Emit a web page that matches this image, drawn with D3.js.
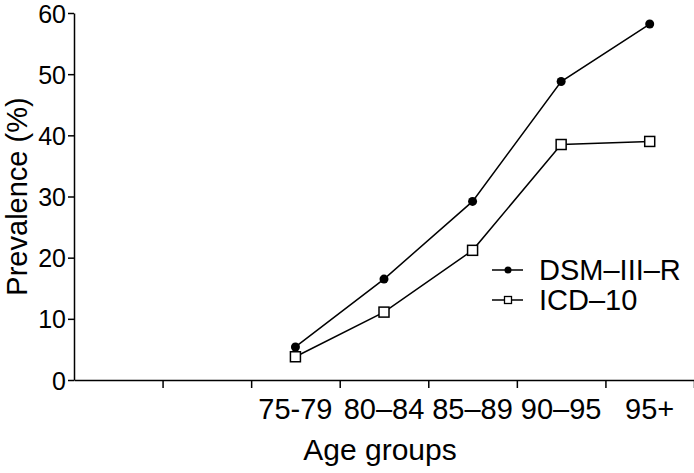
<!DOCTYPE html>
<html>
<head>
<meta charset="utf-8">
<script src="https://cdn.jsdelivr.net/npm/d3@7"></script>
<style>
	body{margin:0;background:#fff;}
	svg text{font-family:"Liberation Sans",Arial,sans-serif;fill:#000;}
	.axis path,.axis line{stroke:#000;stroke-width:1.5;}
</style>
</head>
<body>
<div id="chart"></div>
<script>
const ageGroups = ["75-79","80–84","85–89","90–95","95+"];
const emptySlots = 2; // two unlabeled slots left of the first age group
const dsm = [5.4, 16.5, 29.2, 48.8, 58.2];
const icd = [3.8, 11.1, 21.2, 38.5, 39.0];
const yTicks = [0,10,20,30,40,50,60];
const seriesNames = ["DSM–III–R","ICD–10"];

const width = 694, height = 473;
const margin = {top:13, right:0, bottom:93, left:74};

const svg = d3.select('#chart').append('svg')
	.attr('width',width)
	.attr('height',height);

const x = d3.scaleLinear()
	.domain([-emptySlots, ageGroups.length])
	.range([margin.left, width - margin.right]);

const y = d3.scaleLinear()
	.domain([0,60])
	.range([height - margin.bottom, margin.top]);

// x axis: ticks between groups, labels in the middle of each slot
svg.append('g')
	.attr('class','axis x')
	.attr('transform',`translate(0,${y(0)})`)
	.call(d3.axisBottom(x).tickValues(d3.range(-emptySlots+1, ageGroups.length+1)).tickSize(8).tickSizeOuter(0).tickFormat(''));

svg.selectAll('.xlabel')
	.data(ageGroups)
	.enter().append('text')
	.attr('class','xlabel')
	.attr('x',(d,i) => x(i+0.5))
	.attr('y',y(0)+39)
	.attr('text-anchor','middle')
	.style('font-size','29px')
	.text(d => d);

svg.append('g')
	.attr('class','axis y')
	.attr('transform',`translate(${margin.left},0)`)
	.call(d3.axisLeft(y).tickValues(yTicks).tickSize(6).tickSizeOuter(0).tickPadding(2))
	.selectAll('text')
	.style('font-size','25px')
	.attr('dy','0.36em');

svg.append('text')
	.attr('x',380)
	.attr('y',460)
	.attr('text-anchor','middle')
	.style('font-size','30px')
	.text('Age groups');

svg.append('text')
	.attr('transform',`translate(27,${(y(0)+y(60))/2}) rotate(-90)`)
	.attr('text-anchor','middle')
	.style('font-size','29px')
	.text('Prevalence (%)');

const line = d3.line()
	.x((d,i) => x(i+0.5))
	.y(d => y(d));

[dsm, icd].forEach(vals => {
	svg.append('path')
		.datum(vals)
		.attr('d',line)
		.attr('fill','none')
		.attr('stroke','#000')
		.attr('stroke-width',1.5);
});

svg.selectAll('.dsm')
	.data(dsm)
	.enter().append('circle')
	.attr('class','dsm')
	.attr('cx',(d,i) => x(i+0.5))
	.attr('cy',d => y(d))
	.attr('r',4.5)
	.attr('fill','#000');

svg.selectAll('.icd')
	.data(icd)
	.enter().append('rect')
	.attr('class','icd')
	.attr('x',(d,i) => x(i+0.5)-5)
	.attr('y',d => y(d)-5)
	.attr('width',10)
	.attr('height',10)
	.attr('fill','#fff')
	.attr('stroke','#000')
	.attr('stroke-width',1.5);

// legend
const legend = svg.append('g').attr('transform','translate(492,270)');
seriesNames.forEach((name,k) => {
	const g = legend.append('g').attr('transform',`translate(0,${k*30})`);
	g.append('line').attr('x1',0).attr('x2',31).attr('stroke','#000').attr('stroke-width',1.5);
	if (k == 0) {
		g.append('circle').attr('cx',16).attr('r',3.5).attr('fill','#000');
	}
	else {
		g.append('rect').attr('x',12.5).attr('y',-3.5).attr('width',7).attr('height',7)
			.attr('fill','#fff').attr('stroke','#000').attr('stroke-width',1.3);
	}
	g.append('text').attr('x',47).attr('dy','0.36em').style('font-size','29px').text(name);
});
</script>
</body>
</html>
